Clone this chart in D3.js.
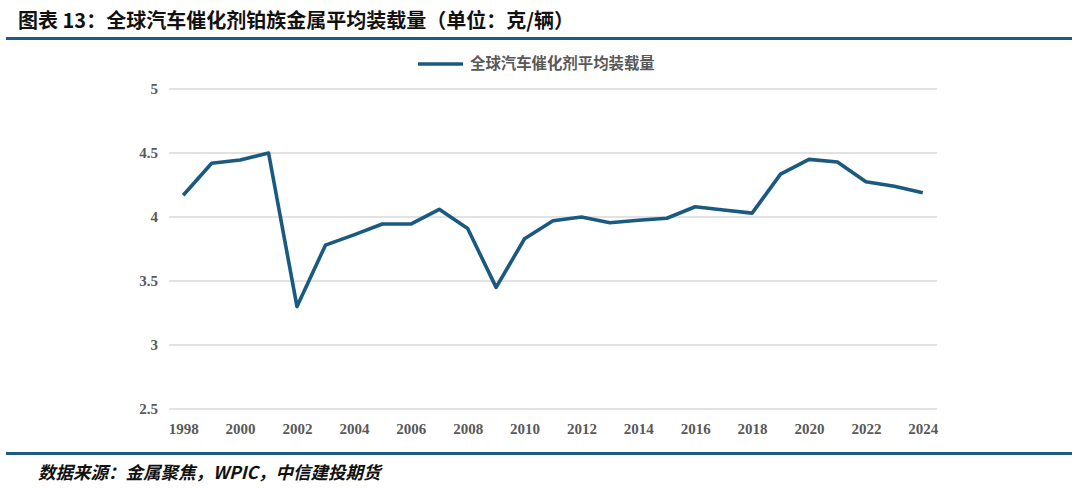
<!DOCTYPE html>
<html>
<head>
<meta charset="utf-8">
<script src="https://cdn.jsdelivr.net/npm/d3@7"></script>
<style>
  body { margin: 0; background: #fff; }
  svg { display: block; }
</style>
</head>
<body>
<div id="chart"></div>
<script>
// data
const years = [1998, 1999, 2000, 2001, 2002, 2003, 2004, 2005, 2006, 2007, 2008, 2009, 2010,
  2011, 2012, 2013, 2014, 2015, 2016, 2017, 2018, 2019, 2020, 2021, 2022, 2023, 2024];
const loading = [4.17, 4.42, 4.445, 4.5, 3.30, 3.78, 3.86, 3.945, 3.945, 4.06, 3.91, 3.45, 3.83,
  3.97, 4.0, 3.955, 3.975, 3.99, 4.08, 4.055, 4.03, 4.335, 4.45, 4.43, 4.275, 4.24, 4.19];
const yTicks = [2.5, 3, 3.5, 4, 4.5, 5];
const xTickYears = years.filter(d => d % 2 === 0);

const title = "图表 13：全球汽车催化剂铂族金属平均装载量（单位：克/辆）";
const seriesName = "全球汽车催化剂平均装载量";
const source = "数据来源：金属聚焦，WPIC，中信建投期货";

const width = 1080, height = 488;
const margin = { top: 89, right: 143, bottom: 79, left: 169 };
const lineColor = "#1b5a80";
const ruleColor = "#1f5a85";
const labelColor = "#595959";

const svg = d3.select("#chart").append("svg")
  .attr("width", width)
  .attr("height", height);

// header
svg.append("text")
  .attr("x", 18).attr("y", 27.5)
  .attr("font-family", "'Noto Sans CJK SC', sans-serif")
  .attr("font-weight", "bold")
  .attr("font-size", 20)
  .attr("fill", "#111")
  .text(title);

svg.append("rect")
  .attr("x", 6).attr("y", 37).attr("width", 1066).attr("height", 3)
  .attr("fill", ruleColor);

svg.append("rect")
  .attr("x", 6).attr("y", 452).attr("width", 1066).attr("height", 3)
  .attr("fill", ruleColor);

svg.append("text")
  .attr("x", 38).attr("y", 479)
  .attr("font-family", "'Noto Sans CJK SC', sans-serif")
  .attr("font-weight", "bold")
  .attr("font-style", "italic")
  .attr("font-size", 17.5)
  .attr("fill", "#111")
  .text(source);

const innerW = width - margin.left - margin.right;
const innerH = height - margin.top - margin.bottom;

const chart = svg.append("g")
  .attr("transform", `translate(${margin.left},${margin.top})`);

const x = d3.scalePoint()
  .domain(years)
  .range([0, innerW])
  .padding(0.5);

const y = d3.scaleLinear()
  .domain([2.5, 5])
  .range([innerH, 0]);

// grid
chart.append("g")
  .selectAll("line")
  .data(yTicks)
  .join("line")
  .attr("x1", 0).attr("x2", innerW)
  .attr("y1", d => y(d)).attr("y2", d => y(d))
  .attr("stroke", "#d9d9d9")
  .attr("stroke-width", 1.5);

// y axis labels
const yAxis = chart.append("g")
  .call(d3.axisLeft(y).tickValues(yTicks).tickSize(0).tickPadding(11).tickFormat(d3.format("")));
yAxis.select(".domain").remove();
yAxis.selectAll("text")
  .attr("font-family", "'Liberation Serif', serif")
  .attr("font-weight", "bold")
  .attr("font-size", 15)
  .attr("fill", labelColor);

// x axis labels
const xAxis = chart.append("g")
  .attr("transform", `translate(0,${innerH})`)
  .call(d3.axisBottom(x).tickValues(xTickYears).tickSize(0).tickPadding(14));
xAxis.select(".domain").remove();
xAxis.selectAll("text")
  .attr("font-family", "'Liberation Serif', serif")
  .attr("font-weight", "bold")
  .attr("font-size", 15)
  .attr("fill", labelColor);

// series line
const line = d3.line()
  .x((d, i) => x(years[i]))
  .y(d => y(d));

chart.append("path")
  .datum(loading)
  .attr("d", line)
  .attr("fill", "none")
  .attr("stroke", lineColor)
  .attr("stroke-width", 3.6)
  .attr("stroke-linejoin", "round");

// legend
const legend = svg.append("g")
  .attr("transform", "translate(418,64)");

legend.append("line")
  .attr("x1", 0).attr("x2", 45)
  .attr("y1", 0).attr("y2", 0)
  .attr("stroke", lineColor)
  .attr("stroke-width", 3.5);

legend.append("text")
  .attr("x", 52).attr("y", 0)
  .attr("dy", "0.35em")
  .attr("font-family", "'Noto Sans CJK SC', sans-serif")
  .attr("font-weight", "bold")
  .attr("font-size", 15.4)
  .attr("fill", labelColor)
  .text(seriesName);
</script>
</body>
</html>
